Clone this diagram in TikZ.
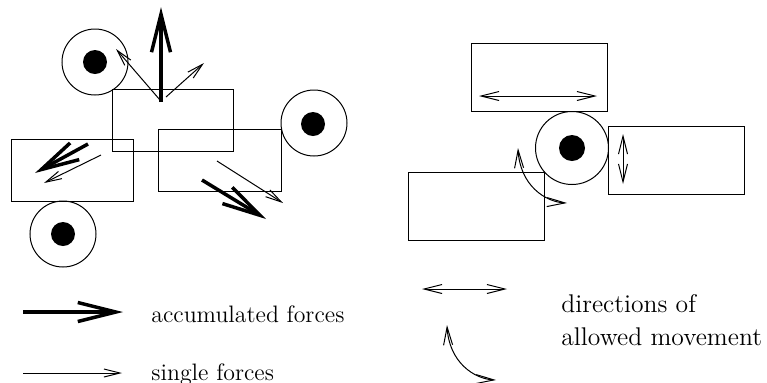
\documentclass[tikz,border=0pt]{standalone}
\usetikzlibrary{arrows.meta}
\begin{document}
\begin{tikzpicture}[x=0.5pt,y=-0.5pt,
  box/.style={draw, line width=0.5pt, rectangle, inner sep=0pt, minimum height=31pt},
  bigbox/.style={draw, line width=0.5pt, rectangle, inner sep=0pt, minimum width=68pt, minimum height=34pt},
  roller/.style={draw, line width=0.5pt, circle, inner sep=0pt, minimum size=33pt},
  bigroller/.style={draw, line width=0.5pt, circle, inner sep=0pt, minimum size=36.5pt},
  axle/.style={fill=black, circle, inner sep=0pt, minimum size=12pt},
  bigaxle/.style={fill=black, circle, inner sep=0pt, minimum size=13pt},
  thinforce/.style={line width=0.5pt, -{Straight Barb[length=8pt,width=4pt]}},
  thickforce/.style={line width=1.75pt, -{Straight Barb[length=19pt,width=9.5pt]}},
  movement/.style={line width=0.5pt, {Straight Barb[length=9pt,width=4.5pt]}-{Straight Barb[length=9pt,width=4.5pt]}},
  legendtext/.style={anchor=base west, inner sep=0pt, font=\fontsize{11.9}{14}\selectfont},
  legendtextb/.style={anchor=base west, inner sep=0pt, font=\fontsize{12.8}{15}\selectfont}
]
\useasboundingbox (0,0) rectangle (767,382);

% ---- left: forces ----
\node[box, minimum width=60.5pt] (boxA) at (172.5,120) {};
\node[box, minimum width=61pt] (boxB) at (72,170) {};
\node[box, minimum width=61.5pt] (boxC) at (219.5,160) {};

\node[roller] (r1) at (95,62) {};
\node[axle] (a1) at (95,62) {};
\node[roller] (r2) at (63,234) {};
\node[axle] (a2) at (63,234) {};
\node[roller] (r3) at (314,123) {};
\node[axle] (a3) at (313,124) {};

\coordinate (upS) at (161,102);
\coordinate (upE) at (161,7);
\coordinate (ulS) at (160,100);
\coordinate (ulE) at (116,49);
\coordinate (urS) at (166,97);
\coordinate (urE) at (204,63);
\draw[thickforce] (upS) -- (upE);
\draw[thinforce] (ulS) -- (ulE);
\draw[thinforce] (urS) -- (urE);

\coordinate (bkS) at (88,144);
\coordinate (bkE) at (35,173);
\coordinate (btS) at (101,155);
\coordinate (btE) at (44,183);
\draw[thickforce] (bkS) -- (bkE);
\draw[thinforce] (btS) -- (btE);

\coordinate (ctS) at (217,161);
\coordinate (ctE) at (283,203);
\coordinate (ckS) at (202,180);
\coordinate (ckE) at (266,219);
\draw[thinforce] (ctS) -- (ctE);
\draw[thickforce] (ckS) -- (ckE);

% ---- right: allowed movement ----
\node[bigbox] (bT) at (539,77) {};
\node[bigbox] (bR) at (676,160) {};
\node[bigbox] (bL) at (476,206) {};
\node[bigroller] (r4) at (572,148) {};
\node[bigaxle] (a4) at (572,148) {};

\coordinate (hS) at (479,96);
\coordinate (hE) at (597,96);
\draw[movement] (hS) -- (hE);
\coordinate (vS) at (623,134);
\coordinate (vE) at (623,184);
\draw[movement] (vS) -- (vE);
\coordinate (cS) at (518,148);
\coordinate (cE) at (567,203);
\draw[movement] (cS) .. controls (520,185) and (545,202) .. (cE);

% ---- legend ----
\coordinate (lkS) at (23,312);
\coordinate (lkE) at (123,312);
\draw[thickforce] (lkS) -- (lkE);
\node[legendtext] (tk) at (151,322) {accumulated forces};
\coordinate (ltS) at (23,373);
\coordinate (ltE) at (122,373);
\draw[thinforce] (ltS) -- (ltE);
\node[legendtext] (tt) at (151,380) {single forces};

\coordinate (lhS) at (422,289);
\coordinate (lhE) at (507,289);
\draw[movement] (lhS) -- (lhE);
\coordinate (lcS) at (447,325);
\coordinate (lcE) at (496,380);
\draw[movement] (lcS) .. controls (449,362) and (474,379) .. (lcE);
\node[legendtextb] (tm1) at (561,312) {directions of};
\node[legendtextb] (tm2) at (561,345) {allowed movement};
\end{tikzpicture}
\end{document}
